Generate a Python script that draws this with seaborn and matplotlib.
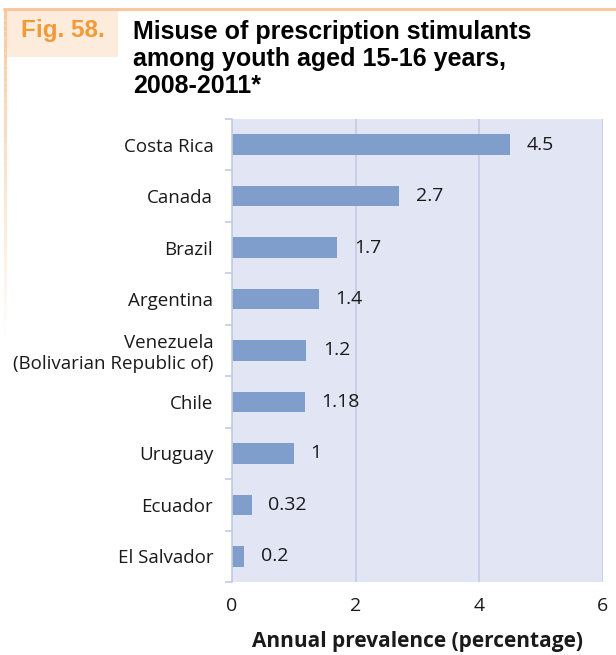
import numpy as np
import pandas as pd
import matplotlib
matplotlib.use("Agg")
import matplotlib.pyplot as plt
from matplotlib.collections import LineCollection
from matplotlib.patches import Rectangle
import seaborn as sns

countries = ["Costa Rica", "Canada", "Brazil", "Argentina",
             "Venezuela\n(Bolivarian Republic of)", "Chile", "Uruguay",
             "Ecuador", "El Salvador"]
prevalence = [4.5, 2.7, 1.7, 1.4, 1.2, 1.18, 1, 0.32, 0.2]
x_ticks = [0, 2, 4, 6]

BAR = "#7f9ecb"
BG = "#e1e5f4"
GRID = "#c3cce6"
ORANGE = "#f29a38"
TXT = "#1a1a1a"

sns.set_theme(style="white")
plt.rcParams["font.family"] = ["Open Sans", "DejaVu Sans"]

df = pd.DataFrame({"country": countries, "value": prevalence})

fig = plt.figure(figsize=(6.16, 6.55), dpi=100)
ax = fig.add_axes([232 / 616, 1 - 582 / 655, (603 - 232) / 616, (582 - 119) / 655])

sns.barplot(data=df, y="country", x="value", orient="h", color=BAR,
            saturation=1, width=0.4, linewidth=0, ax=ax)

ax.set_facecolor(BG)
ax.set_xlim(0, 6)
ax.set_ylim(8.5, -0.5)
ax.set_xticks(x_ticks)
ax.set_xticklabels([str(t) for t in x_ticks])
ax.grid(axis="x", color=GRID, linewidth=1.2)
ax.set_axisbelow(True)
for side in ("top", "bottom", "right"):
    ax.spines[side].set_visible(False)
ax.spines["left"].set_color(GRID)
ax.spines["left"].set_linewidth(1.2)

ax.set_yticks(np.arange(-0.5, 9, 1), minor=True)
ax.tick_params(axis="y", which="minor", length=5, color=GRID, width=1.2, left=True)
ax.tick_params(axis="y", which="major", length=0, pad=13.5, labelsize=13.5, labelcolor=TXT)
ax.tick_params(axis="x", length=0, pad=11, labelsize=14, labelcolor=TXT)

ax.set_ylabel("")
ax.set_xlabel("Annual prevalence (percentage)", fontsize=15, fontweight="bold",
              color=TXT, labelpad=11)

ax.bar_label(ax.containers[0], labels=[f"{v:g}" for v in prevalence],
             padding=12, fontsize=14, color=TXT)

# Orange frame: top rule and fading left rule
fig.add_artist(plt.Line2D([4 / 616, 1], [1 - 8.5 / 655, 1 - 8.5 / 655],
                          transform=fig.transFigure, color="#f8c89c", lw=2.2))
ys = np.linspace(1 - 8.5 / 655, 1 - 340 / 655, 60)
segs = [[(4.5 / 616, ys[i]), (4.5 / 616, ys[i + 1])] for i in range(len(ys) - 1)]
alphas = np.linspace(1, 0, len(segs))
cols = [(0.973, 0.784, 0.612, a) for a in alphas]
fig.add_artist(LineCollection(segs, colors=cols, linewidths=2.2,
                              transform=fig.transFigure))

fig.add_artist(Rectangle((5.5 / 616, 1 - 57 / 655), (118 - 5.5) / 616, (57 - 10) / 655,
                         transform=fig.transFigure, facecolor="#fdebdc",
                         edgecolor="none"))
fig.text(63 / 616, 1 - 31 / 655, "Fig. 58.", color=ORANGE, fontsize=17.5,
         fontweight="bold", family="Liberation Sans", ha="center", va="center")
fig.text(133 / 616, 1 - 20 / 655,
         "Misuse of prescription stimulants\namong youth aged 15-16 years,\n2008-2011*",
         color="black", fontsize=18, fontweight="bold", family="Liberation Sans",
         ha="left", va="top", linespacing=1.17, transform=fig.transFigure)

fig.savefig("out.png", dpi=100)
